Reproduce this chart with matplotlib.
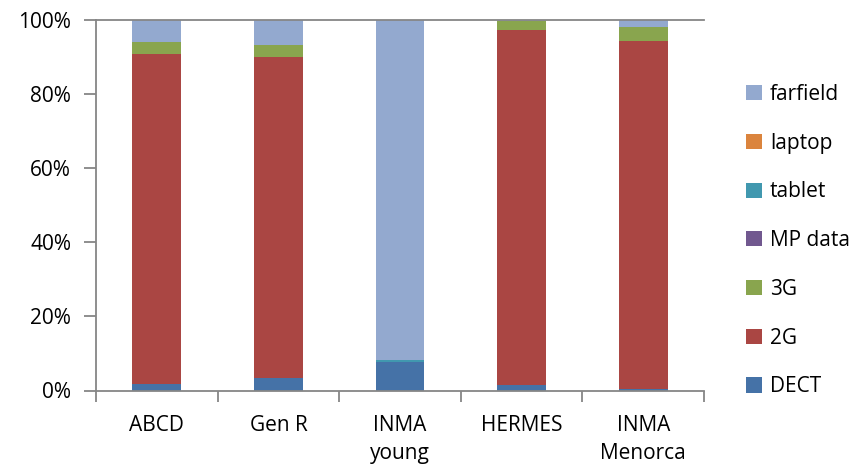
import numpy as np
import matplotlib.pyplot as plt
from matplotlib.patches import Patch

plt.rcParams['font.family'] = ['Open Sans', 'DejaVu Sans']

cohorts = ['ABCD', 'Gen R', 'INMA\nyoung', 'HERMES', 'INMA\nMenorca']

# share of exposure per source, percent
dect = [1.7, 3.3, 7.7, 1.5, 0.5]
g2 = [88.9, 86.5, 0.0, 95.6, 93.8]
g3 = [3.3, 3.4, 0.0, 2.5, 3.6]
mp_data = [0.0, 0.0, 0.0, 0.0, 0.0]
tablet = [0.0, 0.0, 0.5, 0.0, 0.0]
laptop = [0.0, 0.0, 0.0, 0.0, 0.0]
farfield = [6.1, 6.8, 91.8, 0.4, 2.1]

series = [
    ('DECT', dect, '#4572A7'),
    ('2G', g2, '#AA4643'),
    ('3G', g3, '#89A54E'),
    ('MP data', mp_data, '#71588F'),
    ('tablet', tablet, '#4198AF'),
    ('laptop', laptop, '#DB843D'),
    ('farfield', farfield, '#93A9CF'),
]

fig = plt.figure(figsize=(8.63, 4.68), dpi=100)
ax = fig.add_axes([96 / 863, 1 - 390.5 / 468, 608 / 863, 371 / 468])

x = np.arange(len(cohorts))
bottom = np.zeros(len(cohorts))
for name, vals, col in series:
    v = np.array(vals) / 100.0
    ax.bar(x, v, width=0.4, bottom=bottom, color=col, label=name)
    bottom += v

ax.set_xlim(-0.5, len(cohorts) - 0.5)
ax.set_ylim(0, 1)

grey = '#868686'
for s in ['left', 'bottom', 'top']:
    ax.spines[s].set_color(grey)
    ax.spines[s].set_linewidth(1.3)
ax.spines['right'].set_visible(False)

ax.set_yticks(np.linspace(0, 1, 6))
ax.set_yticklabels(['0%', '20%', '40%', '60%', '80%', '100%'], fontsize=15)
ax.tick_params(axis='y', length=9, width=1.3, color=grey, pad=9)

# category labels between boundary ticks
ax.set_xticks(np.arange(len(cohorts) + 1) - 0.5)
ax.set_xticklabels([])
ax.tick_params(axis='x', length=8, width=1.3, color=grey)
for xi, lab in zip(x, cohorts):
    ax.text(xi, -0.065, lab, ha='center', va='top', fontsize=15,
            linespacing=1.45, transform=ax.get_xaxis_transform())

handles = [Patch(facecolor=c, label=n) for n, _, c in series][::-1]
fig.legend(handles=handles, loc='upper left', bbox_to_anchor=(746 / 863, 1 - 84 / 468),
           frameon=False, fontsize=15, handlelength=0.75, handleheight=0.75,
           handletextpad=0.4, labelspacing=1.33, borderaxespad=0, borderpad=0)

fig.savefig('out.png', dpi=100)
